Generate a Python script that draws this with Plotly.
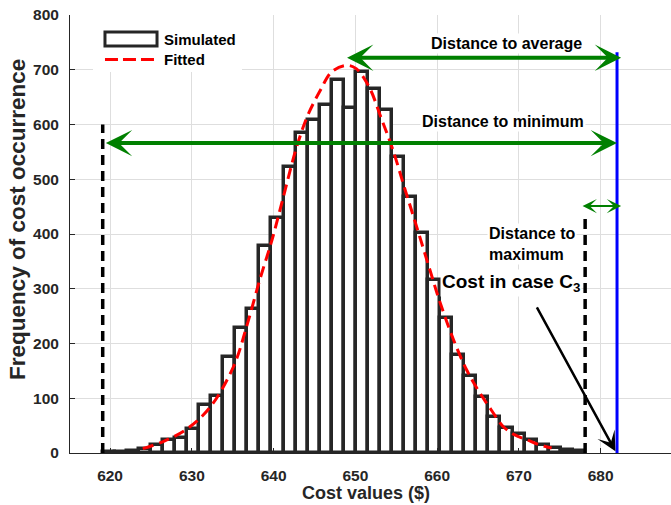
import plotly.graph_objects as go

# ---------------- data ----------------
bin_start = 619.1
bin_width = 1.474
counts = [1, 2, 4, 7, 14, 24, 27, 44, 88, 104,
          176, 229, 263, 378, 430, 522, 585, 609, 636, 682,
          630, 696, 665, 627, 541, 467, 402, 316, 247, 179,
          140, 102, 66, 46, 35, 23, 14, 10, 5, 3]

fit_x = [624.0, 626.5, 629.4, 632.2, 635.1, 636.7, 638.3, 639.8, 641.2, 642.7,
         644.1, 645.7, 647.1, 648.9, 650.1, 651.7, 653.1, 654.6, 656.1, 657.5,
         659.0, 660.4, 662.0, 663.6, 665.0, 666.6, 668.1, 669.5, 671.0, 672.5, 674.0]
fit_y = [8, 21, 44, 83, 158, 231, 316, 389, 468, 553,
         614, 662, 696, 708, 702, 668, 614, 553, 480, 413,
         340, 273, 207, 152, 115, 79, 48, 33, 24, 15, 9]

min_cost = 619.1
max_cost = 678.1
avg_cost = 648.8
case_c3_cost = 682.0

x_ticks = [620, 630, 640, 650, 660, 670, 680]
y_ticks = [0, 100, 200, 300, 400, 500, 600, 700, 800]

# ---------------- figure ----------------
FONT = "Liberation Sans"
DARK = "#262626"
GREEN = "#008000"
GRID = "#dedede"

centers = [bin_start + bin_width * (i + 0.5) for i in range(len(counts))]

fig = go.Figure()
fig.add_trace(go.Bar(
    x=centers, y=counts, width=bin_width,
    marker=dict(color="white", line=dict(color=DARK, width=3.5)),
    showlegend=False, hoverinfo="skip"))
fig.add_trace(go.Scatter(
    x=fit_x, y=fit_y, mode="lines",
    line=dict(color="red", width=3, dash="11px,6px", shape="spline"),
    showlegend=False))
fig.add_trace(go.Scatter(
    x=[min_cost, min_cost], y=[0, 600], mode="lines",
    line=dict(color="black", width=3.5, dash="10px,6px"), showlegend=False))
fig.add_trace(go.Scatter(
    x=[max_cost, max_cost], y=[0, 430], mode="lines",
    line=dict(color="black", width=3.5, dash="10px,6px"), showlegend=False))
fig.add_trace(go.Scatter(
    x=[case_c3_cost, case_c3_cost], y=[0, 732], mode="lines",
    line=dict(color="blue", width=3), showlegend=False))

axis_common = dict(
    showgrid=True, gridcolor=GRID, gridwidth=1,
    showline=True, linecolor=DARK, linewidth=1, mirror=False,
    ticks="inside", ticklen=5, tickcolor=DARK, tickwidth=1,
    zeroline=False, automargin=False,
    tickfont=dict(family=FONT, size=15.5, color=DARK, weight="bold"),
)

fig.update_layout(
    width=671, height=505,
    margin=dict(l=70, r=0, t=15, b=52),
    paper_bgcolor="white", plot_bgcolor="white",
    bargap=0,
    xaxis=dict(range=[615.1, 688.6], tickvals=x_ticks, ticklabelstandoff=8, **axis_common),
    yaxis=dict(range=[0, 800], tickvals=y_ticks, ticklabelstandoff=7, **axis_common),
    showlegend=False,
)

ann = []
# axis titles
ann.append(dict(text="Cost values ($)", xref="paper", yref="paper", x=0.4933, y=-0.0913,
                xanchor="center", yanchor="middle", showarrow=False,
                font=dict(family=FONT, size=18, color=DARK, weight="bold")))
ann.append(dict(text="Frequency of cost occurrence", xref="paper", yref="paper",
                x=-0.0865, y=0.532, textangle=-90,
                xanchor="center", yanchor="middle", showarrow=False,
                font=dict(family=FONT, size=22.5, color=DARK, weight="bold")))

# arrows
arrow_common = dict(xref="x", yref="y", axref="x", ayref="y", text="", showarrow=True,
                    arrowside="end+start", standoff=0, startstandoff=0)
ann.append(dict(x=case_c3_cost + 0.5, y=722, ax=avg_cost, ay=722,
                arrowhead=3, startarrowhead=3, arrowsize=1.1, startarrowsize=1.1,
                arrowwidth=4, arrowcolor=GREEN, **arrow_common))
ann.append(dict(x=case_c3_cost, y=566, ax=min_cost + 0.2, ay=566,
                arrowhead=3, startarrowhead=3, arrowsize=1.1, startarrowsize=1.1,
                arrowwidth=4, arrowcolor=GREEN, **arrow_common))
ann.append(dict(x=case_c3_cost + 0.5, y=451, ax=max_cost - 0.5, ay=451,
                arrowhead=3, startarrowhead=3, arrowsize=1.2, startarrowsize=1.2,
                arrowwidth=2, arrowcolor=GREEN, **arrow_common))
ann.append(dict(x=case_c3_cost - 0.2, y=3, ax=672.1, ay=268.6,
                xref="x", yref="y", axref="x", ayref="y", text="", showarrow=True,
                arrowhead=3, arrowsize=1.3, arrowwidth=2.5, arrowcolor="black", standoff=0))

# text labels
txt_font = dict(family=FONT, size=16, color="black", weight="bold")
ann.append(dict(text="Distance to average", x=668.5, y=748.6, xref="x", yref="y",
                showarrow=False, bgcolor="white", font=txt_font))
ann.append(dict(text="Distance to minimum", x=668.0, y=606.4, xref="x", yref="y",
                showarrow=False, bgcolor="white", font=txt_font))
ann.append(dict(text="Distance to<br>maximum", x=666.1, y=382, xref="x", yref="y",
                xanchor="left", align="left", showarrow=False, bgcolor="white", font=txt_font))
ann.append(dict(text="Cost in case C<sub>3</sub>", x=660.3, y=310, xref="x", yref="y",
                xanchor="left", showarrow=False, bgcolor="white",
                font=dict(family=FONT, size=19, color="black", weight="bold")))

# legend texts
leg_font = dict(family=FONT, size=15, color="black", weight="bold")
ann.append(dict(text="Simulated", xref="paper", yref="paper", x=0.1531, y=0.9441,
                xanchor="left", yanchor="middle", showarrow=False, font=leg_font))
ann.append(dict(text="Fitted", xref="paper", yref="paper", x=0.1531, y=0.8984,
                xanchor="left", yanchor="middle", showarrow=False, font=leg_font))
fig.update_layout(annotations=ann)

shapes = [
    dict(type="rect", xref="paper", yref="paper", x0=0.0383, x1=0.2862, y0=0.8699, y1=1.0,
         fillcolor="white", line=dict(width=0), layer="above"),
    dict(type="rect", xref="paper", yref="paper", x0=0.0582, x1=0.1448, y0=0.9292, y1=0.9612,
         fillcolor="white", line=dict(color=DARK, width=3), layer="above"),
    dict(type="line", xref="paper", yref="paper", x0=0.0582, x1=0.1448, y0=0.8984, y1=0.8984,
         line=dict(color="red", width=3, dash="13px,5px"), layer="above"),
]
fig.update_layout(shapes=shapes)

fig.write_html("out.html", config={"displayModeBar": False},
               post_script="document.body.style.margin='0';document.body.style.overflow='hidden';")
